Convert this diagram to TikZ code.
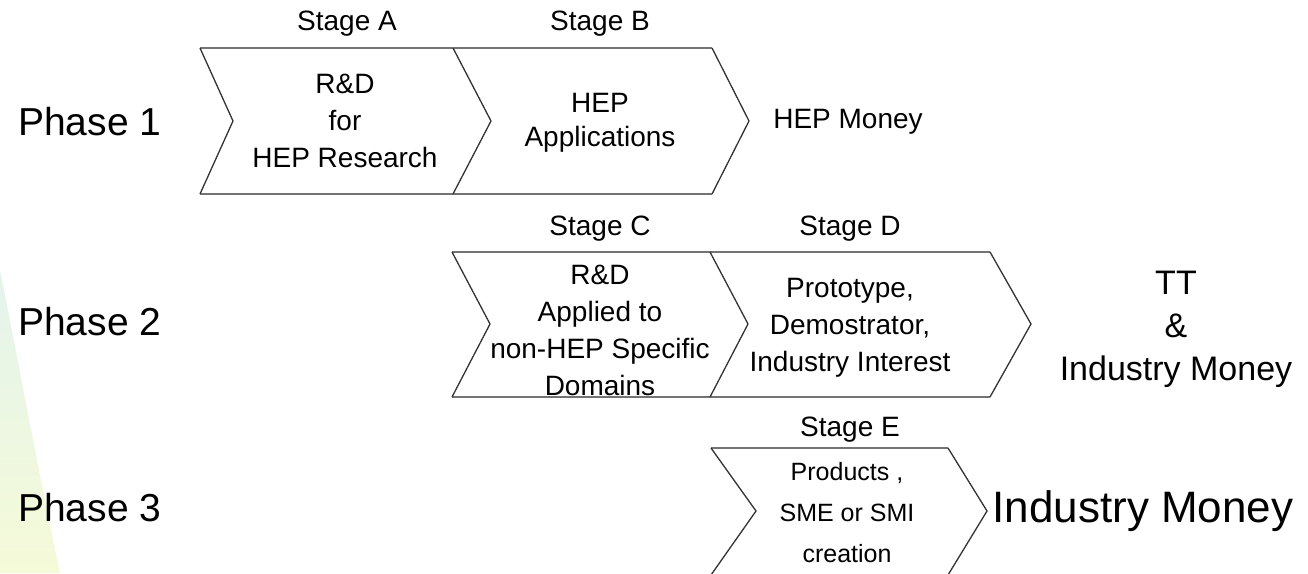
\documentclass[tikz,border=0pt]{standalone}
\usepackage{fontspec}
\setmainfont{Liberation Sans}
\definecolor{bgtop}{RGB}{228,244,236}
\definecolor{bgbot}{RGB}{245,250,216}
\begin{document}
\begin{tikzpicture}[x=1pt,y=-1pt,
  lbl/.style={font=\fontsize{28}{37}\selectfont, align=center, inner sep=0pt},
  small/.style={font=\fontsize{25}{41}\selectfont, align=center, inner sep=0pt},
  phase/.style={font=\fontsize{39}{45}\selectfont, anchor=west, inner sep=0pt},
  hedge/.style={draw=black!55, line width=2pt},
  sedge/.style={draw=black!80, line width=1.3pt, line join=miter}]
\useasboundingbox (0,0) rectangle (1308,573);
% faint background shape
\shade[top color=bgtop, bottom color=bgbot] (0,270) .. controls (20,370) and (40,480) .. (60,573) -- (0,573) -- cycle;

% ---- Phase 1 ----
\draw[hedge] (200,48) -- (712,48);
\draw[hedge] (200,194) -- (712,194);
\draw[sedge] (200,48) -- (233,121) -- (200,194);
\draw[sedge] (453,48) -- (491,121) -- (453,194);
\draw[sedge] (712,48) -- (749,121) -- (712,194);

% ---- Phase 2 ----
\draw[hedge] (452,252) -- (990,252);
\draw[hedge] (452,397) -- (990,397);
\draw[sedge] (452,252) -- (490,324) -- (452,397);
\draw[sedge] (710,252) -- (748,324) -- (710,397);
\draw[sedge] (990,252) -- (1031,324) -- (990,397);

% ---- Phase 3 ----
\draw[hedge] (711,448) -- (948,448);
\draw[hedge] (711,575) -- (948,575);
\draw[sedge] (711,448) -- (756,511) -- (711,575);
\draw[sedge] (948,448) -- (987,511) -- (948,575);

% phase labels
\node[phase] (p1) at (18,122) {Phase 1};
\node[phase] (p2) at (18,322) {Phase 2};
\node[phase] (p3) at (18,508) {Phase 3};

% stage labels
\node[lbl] (sA) at (347,24) {Stage A};
\node[lbl] (sB) at (600,24) {Stage B};
\node[lbl] (sC) at (600,229) {Stage C};
\node[lbl] (sD) at (850,229) {Stage D};
\node[lbl] (sE) at (850,430) {Stage E};

% chevron texts
\node[lbl] (tA) at (345,121) {R\&D\\for\\HEP Research};
\node[lbl, font=\fontsize{28}{34}\selectfont] (tB) at (600,123) {HEP\\Applications};
\node[lbl] (tC) at (600,330) {R\&D\\Applied to\\non-HEP Specific\\Domains};
\node[lbl] (tD) at (850,328) {Prototype,\\Demostrator,\\Industry Interest};
\node[small] (tE) at (847,513) {Products ,\\SME or SMI\\creation};

% outcomes
\node[lbl] (o1) at (848,122) {HEP Money};
\node[font=\fontsize{34}{43}\selectfont, align=center, inner sep=0pt] (o2) at (1176,329) {TT\\\&\\Industry Money};
\node[font=\fontsize{44}{50}\selectfont, inner sep=0pt] (o3) at (1143,511) {Industry Money};
\end{tikzpicture}
\end{document}
